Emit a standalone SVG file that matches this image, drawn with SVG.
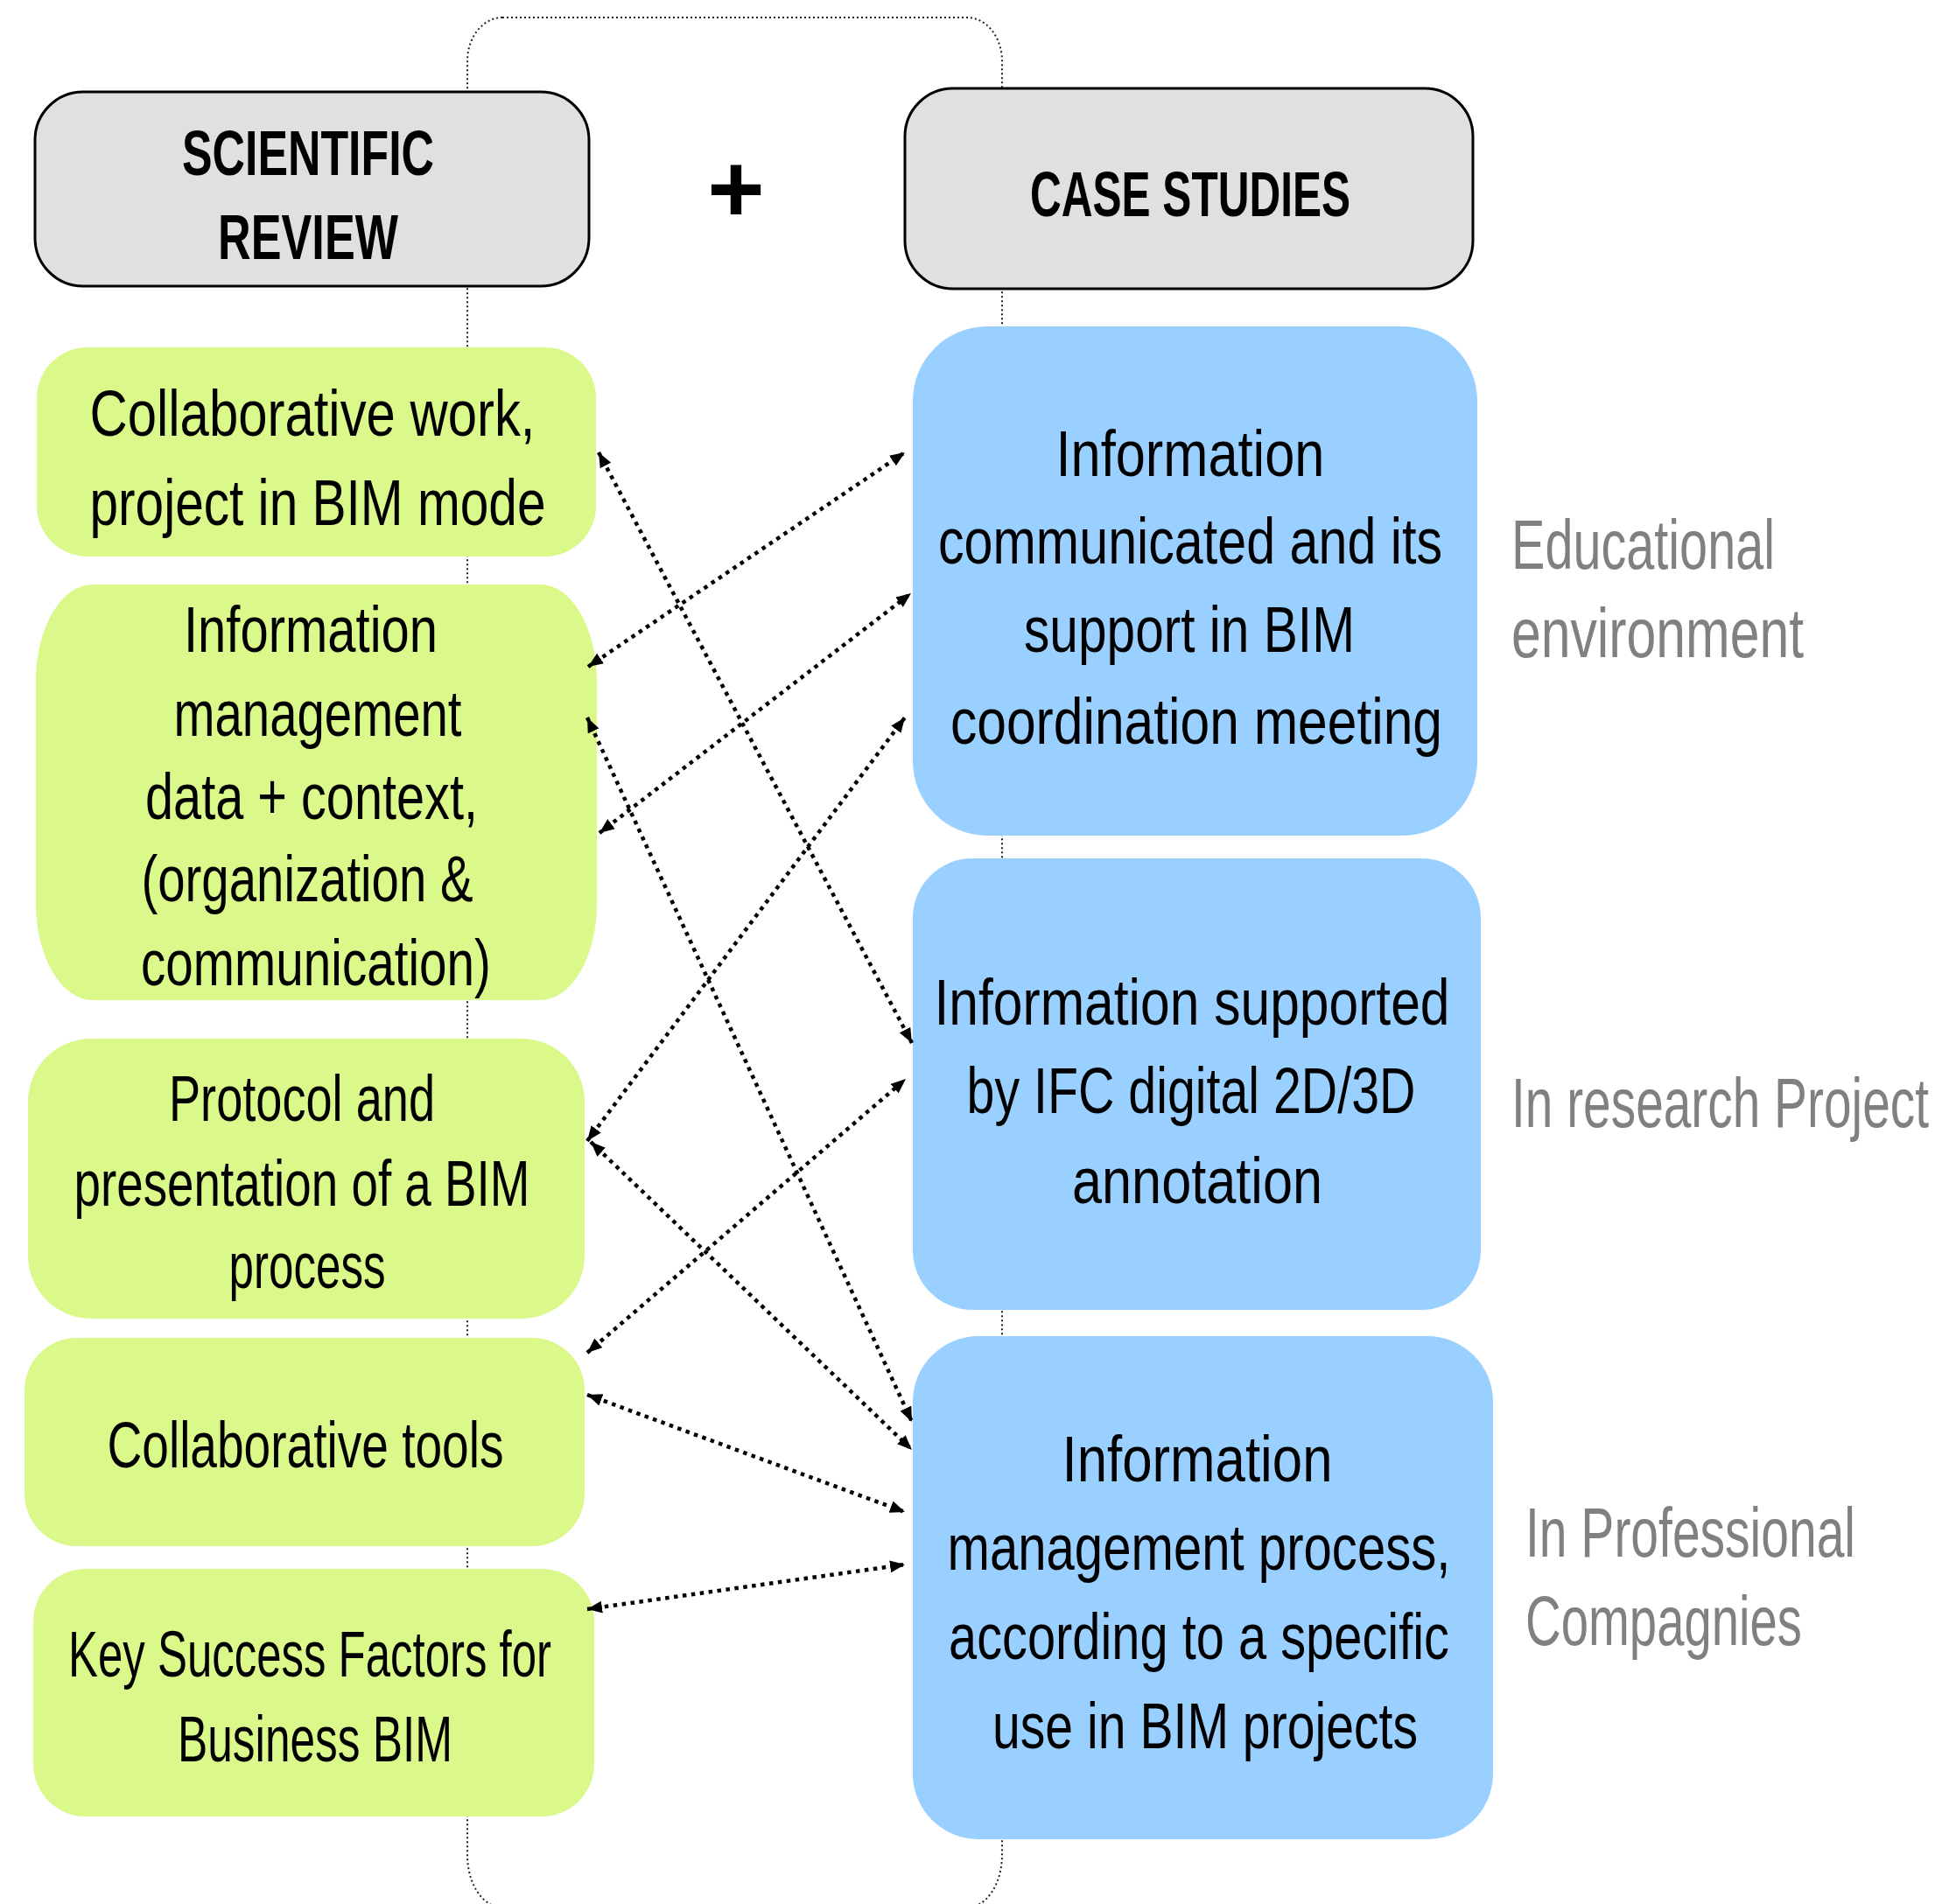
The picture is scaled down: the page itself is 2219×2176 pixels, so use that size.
<svg xmlns="http://www.w3.org/2000/svg" width="2219" height="2176" viewBox="0 0 2219 2176">
<style>
  .hdr { fill: #e0e0e0; stroke: #000; stroke-width: 3; }
  .grn { fill: #dbf88a; }
  .blu { fill: #99d0ff; }
  text { font-family: "Liberation Sans Narrow", "Liberation Sans", Arial, sans-serif; }
  .t { font-size: 74px; fill: #000; text-anchor: middle; }
  .h { font-size: 73px; font-weight: bold; fill: #000; text-anchor: middle; }
  .side { font-size: 80px; fill: #808080; }
  .conn { fill: none; stroke: #000; stroke-width: 4.5; stroke-dasharray: 4.5 5.5; marker-start: url(#ah); marker-end: url(#ah); }
  .frame { fill: none; stroke: #222; stroke-width: 2; stroke-dasharray: 2 3; }
</style>
<defs>
  <marker id="ah" viewBox="0 0 17 14" refX="17" refY="7" markerWidth="17" markerHeight="14" markerUnits="userSpaceOnUse" orient="auto-start-reverse">
    <path d="M0,0 L17,7 L0,14 z" fill="#000"/>
  </marker>
</defs>
<rect x="0" y="0" width="2219" height="2176" fill="#fff"/>

<g id="frame">
  <path class="frame" d="M574,20 H1105 A40,50 0 0 1 1145,70 V2120 A40,60 0 0 1 1105,2180 H574 A40,60 0 0 1 534,2120 V70 A40,50 0 0 1 574,20 Z"/>
</g>

<g id="scientific-review">
  <rect class="hdr" x="40" y="105" width="633" height="222" rx="55" ry="55"/>
  <text class="h" x="352" y="200" textLength="288" lengthAdjust="spacingAndGlyphs">SCIENTIFIC</text>
  <text class="h" x="352" y="296" textLength="206" lengthAdjust="spacingAndGlyphs">REVIEW</text>
</g>

<g id="plus">
  <text x="841" y="254" style="font-family: 'Liberation Sans', Arial, sans-serif; font-size: 112px; font-weight: bold; text-anchor: middle;">+</text>
</g>

<g id="case-studies">
  <rect class="hdr" x="1034" y="101" width="649" height="229" rx="55" ry="55"/>
  <text class="h" x="1360" y="247" textLength="366" lengthAdjust="spacingAndGlyphs">CASE STUDIES</text>
</g>

<g id="collaborative-work">
  <rect class="grn" x="42" y="397" width="639" height="239" rx="58" ry="58"/>
  <text class="t" x="357" y="498" textLength="509" lengthAdjust="spacingAndGlyphs">Collaborative work,</text>
  <text class="t" x="363" y="600" textLength="521" lengthAdjust="spacingAndGlyphs">project in BIM mode</text>
</g>

<g id="information-management">
  <rect class="grn" x="41" y="668" width="641" height="475" rx="65" ry="110"/>
  <text class="t" x="355" y="745" textLength="290" lengthAdjust="spacingAndGlyphs">Information</text>
  <text class="t" x="363" y="841" textLength="329" lengthAdjust="spacingAndGlyphs">management</text>
  <text class="t" x="356" y="936" textLength="380" lengthAdjust="spacingAndGlyphs">data + context,</text>
  <text class="t" x="351" y="1030" textLength="379" lengthAdjust="spacingAndGlyphs">(organization &amp;</text>
  <text class="t" x="361" y="1126" textLength="400" lengthAdjust="spacingAndGlyphs">communication)</text>
</g>

<g id="protocol">
  <rect class="grn" x="32" y="1187" width="636" height="320" rx="72" ry="72"/>
  <text class="t" x="345" y="1281" textLength="304" lengthAdjust="spacingAndGlyphs">Protocol and</text>
  <text class="t" x="345" y="1378" textLength="521" lengthAdjust="spacingAndGlyphs">presentation of a BIM</text>
  <text class="t" x="351" y="1472" textLength="179" lengthAdjust="spacingAndGlyphs">process</text>
</g>

<g id="collaborative-tools">
  <rect class="grn" x="28" y="1529" width="640" height="238" rx="60" ry="60"/>
  <text class="t" x="349" y="1677" textLength="453" lengthAdjust="spacingAndGlyphs">Collaborative tools</text>
</g>

<g id="key-success-factors">
  <rect class="grn" x="38" y="1793" width="641" height="283" rx="60" ry="60"/>
  <text class="t" x="354" y="1916" textLength="552" lengthAdjust="spacingAndGlyphs">Key Success Factors for</text>
  <text class="t" x="360" y="2013" textLength="314" lengthAdjust="spacingAndGlyphs">Business BIM</text>
</g>

<g id="information-communicated">
  <rect class="blu" x="1043" y="373" width="645" height="582" rx="85" ry="85"/>
  <text class="t" x="1360" y="544" textLength="307" lengthAdjust="spacingAndGlyphs">Information</text>
  <text class="t" x="1360" y="644" textLength="576" lengthAdjust="spacingAndGlyphs">communicated and its</text>
  <text class="t" x="1359" y="745" textLength="378" lengthAdjust="spacingAndGlyphs">support in BIM</text>
  <text class="t" x="1367" y="850" textLength="562" lengthAdjust="spacingAndGlyphs">coordination meeting</text>
</g>

<g id="information-supported">
  <rect class="blu" x="1043" y="981" width="649" height="516" rx="68" ry="68"/>
  <text class="t" x="1362" y="1171" textLength="589" lengthAdjust="spacingAndGlyphs">Information supported</text>
  <text class="t" x="1361" y="1272" textLength="513" lengthAdjust="spacingAndGlyphs">by IFC digital 2D/3D</text>
  <text class="t" x="1368" y="1375" textLength="286" lengthAdjust="spacingAndGlyphs">annotation</text>
</g>

<g id="information-management-process">
  <rect class="blu" x="1043" y="1527" width="663" height="575" rx="75" ry="75"/>
  <text class="t" x="1368" y="1693" textLength="309" lengthAdjust="spacingAndGlyphs">Information</text>
  <text class="t" x="1370" y="1794" textLength="575" lengthAdjust="spacingAndGlyphs">management process,</text>
  <text class="t" x="1370" y="1896" textLength="572" lengthAdjust="spacingAndGlyphs">according to a specific</text>
  <text class="t" x="1377" y="1998" textLength="486" lengthAdjust="spacingAndGlyphs">use in BIM projects</text>
</g>

<g id="label-educational">
  <text class="side" x="1727" y="650" textLength="301" lengthAdjust="spacingAndGlyphs">Educational</text>
  <text class="side" x="1727" y="751" textLength="334" lengthAdjust="spacingAndGlyphs">environment</text>
</g>
<g id="label-research">
  <text class="side" x="1727" y="1288" textLength="477" lengthAdjust="spacingAndGlyphs">In research Project</text>
</g>
<g id="label-professional">
  <text class="side" x="1743" y="1779" textLength="377" lengthAdjust="spacingAndGlyphs">In Professional</text>
  <text class="side" x="1743" y="1880" textLength="316" lengthAdjust="spacingAndGlyphs">Compagnies</text>
</g>

<g id="connectors">
  <line class="conn" x1="684" y1="517" x2="1042" y2="1192"/>
  <line class="conn" x1="672" y1="762" x2="1034" y2="517"/>
  <line class="conn" x1="685" y1="952" x2="1041" y2="678"/>
  <line class="conn" x1="671" y1="820" x2="1042" y2="1625"/>
  <line class="conn" x1="671" y1="1304" x2="1034" y2="820"/>
  <line class="conn" x1="675" y1="1305" x2="1042" y2="1657"/>
  <line class="conn" x1="671" y1="1546" x2="1035" y2="1233"/>
  <line class="conn" x1="671" y1="1594" x2="1034" y2="1728"/>
  <line class="conn" x1="671" y1="1839" x2="1034" y2="1788"/>
</g>
</svg>
